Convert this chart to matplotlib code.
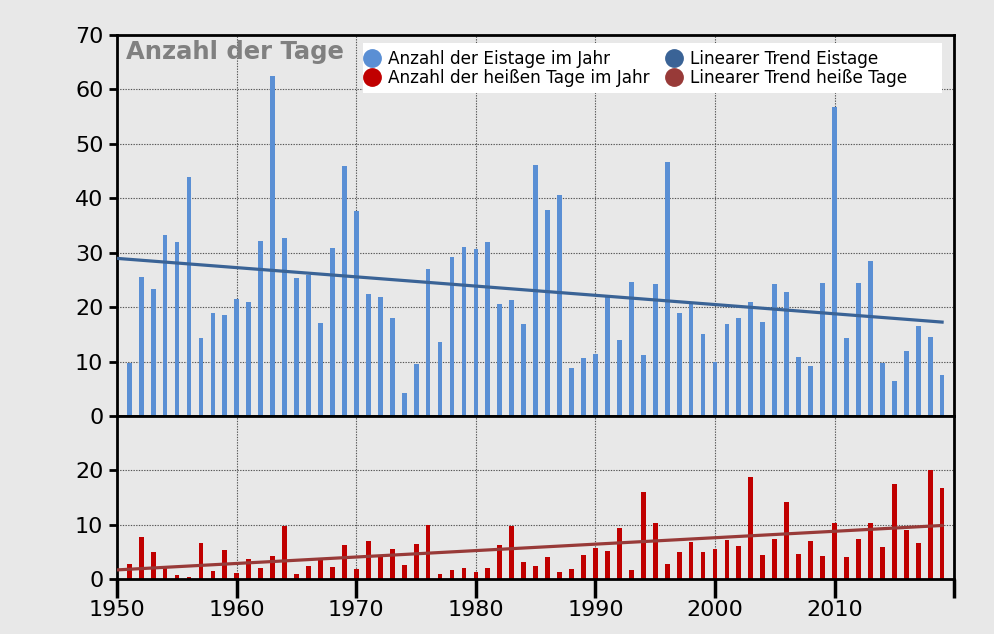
"""Eistage und heiße Tage pro Jahr mit linearem Trend (zwei gestapelte Panels)."""

import matplotlib

matplotlib.use("Agg")

import matplotlib.pyplot as plt
import numpy as np
from matplotlib.lines import Line2D
from matplotlib.patches import Rectangle

YEARS = list(range(1951, 2020))

# Anzahl der Eistage im Jahr (1951-2019)
ICE_DAYS = [
    9.7, 25.6, 23.4, 33.3, 31.9, 43.9, 14.3, 18.9, 18.5, 21.5,
    20.9, 32.2, 62.4, 32.7, 25.4, 26.0, 17.1, 30.9, 46.0, 37.7,
    22.5, 21.9, 18.0, 4.3, 9.6, 27.1, 13.6, 29.2, 31.0, 30.6,
    32.0, 20.5, 21.4, 16.9, 46.1, 37.9, 40.6, 8.9, 10.7, 11.4,
    22.0, 13.9, 24.7, 11.2, 24.2, 46.6, 18.9, 20.6, 15.0, 9.9,
    16.9, 18.0, 21.0, 17.2, 24.2, 22.7, 10.8, 9.1, 24.4, 56.7,
    14.4, 24.5, 28.5, 9.8, 6.5, 11.9, 16.5, 14.5, 7.5,
]

# Anzahl der heißen Tage im Jahr (1951-2019)
HOT_DAYS = [
    2.75, 7.7, 4.9, 2.1, 0.7, 0.4, 6.7, 1.4, 5.4, 1.1,
    3.7, 2.1, 4.3, 9.7, 1.0, 2.3, 3.6, 2.2, 6.3, 1.8,
    6.9, 4.1, 5.6, 2.6, 6.4, 10.0, 1.0, 1.65, 2.1, 1.3,
    2.0, 6.2, 9.7, 3.1, 2.4, 4.0, 1.35, 1.9, 4.5, 5.7,
    5.1, 9.4, 1.6, 16.1, 10.3, 2.7, 5.0, 6.85, 5.0, 5.5,
    7.2, 6.0, 18.8, 4.5, 7.3, 14.1, 4.6, 7.0, 4.3, 10.3,
    4.0, 7.3, 10.3, 5.8, 17.4, 9.0, 6.6, 20.1, 16.7,
]

TREND_YEARS = [1950, 2019]
X_TICKS = list(range(1950, 2030, 10))
X_TICK_LABELS = [str(y) for y in X_TICKS[:-1]] + [""]

LABEL_ICE = "Anzahl der Eistage im Jahr"
LABEL_HOT = "Anzahl der heißen Tage im Jahr"
LABEL_ICE_TREND = "Linearer Trend Eistage"
LABEL_HOT_TREND = "Linearer Trend heiße Tage"
TITLE = "Anzahl der Tage"

BG = "#e8e8e8"
C_ICE = "#5a8fd4"
C_HOT = "#c00000"
C_ICE_TREND = "#3a6396"
C_HOT_TREND = "#983a38"
GRID_COLOR = "#555555"


def trend(years, values):
    """Lineare Regression, ausgewertet an TREND_YEARS."""
    slope, intercept = np.polyfit(years, values, 1)
    xs = np.array(TREND_YEARS, dtype=float)
    return xs, slope * xs + intercept


def style_axes(ax):
    ax.set_facecolor(BG)
    ax.set_xlim(1950, 2020)
    ax.set_xticks(X_TICKS)
    ax.grid(True, linestyle=(0, (1.2, 1.2)), color=GRID_COLOR, linewidth=0.8)
    ax.set_axisbelow(True)
    for spine in ax.spines.values():
        spine.set_linewidth(2)
        spine.set_color("black")
    ax.tick_params(axis="y", direction="out", length=6, width=2, labelsize=16, pad=4)


def main():
    plt.rcParams["font.family"] = ["DejaVu Sans"]
    fig = plt.figure(figsize=(9.94, 6.34), dpi=100, facecolor=BG)

    left, right = 0.118, 0.9598
    top, mid, bottom = 0.9448, 0.3438, 0.0868
    ax_top = fig.add_axes([left, mid, right - left, top - mid])
    ax_bot = fig.add_axes([left, bottom, right - left, mid - bottom])

    style_axes(ax_top)
    style_axes(ax_bot)

    ax_top.bar(YEARS, ICE_DAYS, width=0.4, color=C_ICE, zorder=2)
    tx, ty = trend(YEARS, ICE_DAYS)
    ax_top.plot(tx, ty, color=C_ICE_TREND, linewidth=2.3, zorder=3)
    ax_top.set_ylim(0, 70)
    ax_top.set_yticks(range(0, 80, 10))
    ax_top.tick_params(axis="x", length=0, labelbottom=False)

    ax_bot.bar(YEARS, HOT_DAYS, width=0.4, color=C_HOT, zorder=2)
    hx, hy = trend(YEARS, HOT_DAYS)
    ax_bot.plot(hx, hy, color=C_HOT_TREND, linewidth=2.3, zorder=3)
    ax_bot.set_ylim(0, 30)
    ax_bot.set_yticks([0, 10, 20])
    ax_bot.set_xticklabels(X_TICK_LABELS)
    ax_bot.tick_params(axis="x", direction="out", length=14, width=2.5,
                       labelsize=16, pad=1)

    ax_top.text(0.01, 0.988, TITLE, transform=ax_top.transAxes, ha="left", va="top",
                fontsize=17.5, fontweight="bold", color="#808080")

    # weißer Legendenhintergrund (breiter als der Legendeninhalt)
    ax_top.add_patch(Rectangle((0.2937, 0.8478), 0.692, 0.1312,
                               transform=ax_top.transAxes, facecolor="white",
                               edgecolor="none", zorder=4))

    handles = [
        Line2D([], [], linestyle="none", marker="o", markersize=12.5, color=C_ICE),
        Line2D([], [], linestyle="none", marker="o", markersize=12.5, color=C_HOT),
        Line2D([], [], linestyle="none", marker="o", markersize=12.5, color=C_ICE_TREND),
        Line2D([], [], linestyle="none", marker="o", markersize=12.5, color=C_HOT_TREND),
    ]
    labels = [LABEL_ICE, LABEL_HOT, LABEL_ICE_TREND, LABEL_HOT_TREND]
    leg = ax_top.legend(handles, labels, ncol=2, loc="upper left",
                        bbox_to_anchor=(0.2944, 0.9606), fontsize=12.2, frameon=False,
                        borderpad=0, handlelength=1.0, handletextpad=0.45,
                        columnspacing=0.95, labelspacing=0.08, borderaxespad=0)
    leg.set_zorder(5)

    fig.savefig("out.png", dpi=100, facecolor=BG)
    plt.close(fig)


if __name__ == "__main__":
    main()
